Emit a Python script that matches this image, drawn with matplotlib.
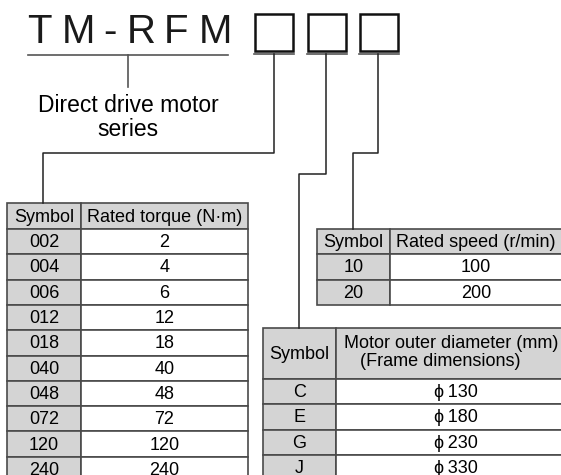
import matplotlib.pyplot as plt
from matplotlib.patches import Rectangle

plt.rcParams['font.family'] = ['Liberation Sans', 'DejaVu Sans']

# Table contents
torque_symbols = ['002', '004', '006', '012', '018', '040', '048', '072', '120', '240']
torque_values = ['2', '4', '6', '12', '18', '40', '48', '72', '120', '240']
speed_symbols = ['10', '20']
speed_values = ['100', '200']
frame_symbols = ['C', 'E', 'G', 'J']
frame_values = ['\u03d5\u2009130', '\u03d5\u2009180', '\u03d5\u2009230', '\u03d5\u2009330']

GRAY = '#d4d4d4'
EDGE = '#4a4a4a'
LINE = '#222222'

fig = plt.figure(figsize=(5.61, 4.75), dpi=100)
ax = fig.add_axes([0, 0, 1, 1])
ax.set_xlim(0, 561)
ax.set_ylim(475, 0)
ax.axis('off')


def table(x0, x1, x2, top, head_h, row_h, header, symbols, values, fs=13):
    # header row
    ax.add_patch(Rectangle((x0, top), x1 - x0, head_h, fc=GRAY, ec=EDGE, lw=1.2))
    ax.add_patch(Rectangle((x1, top), x2 - x1, head_h, fc=GRAY, ec=EDGE, lw=1.2))
    ax.text((x0 + x1) / 2, top + head_h / 2 + 1, header[0], ha='center', va='center', fontsize=fs)
    if len(header) == 2:
        ax.text((x1 + x2) / 2, top + head_h / 2 + 1, header[1], ha='center', va='center', fontsize=fs)
    else:
        ax.text(451, top + 15, header[1], ha='center', va='center', fontsize=fs)
        ax.text(440, top + 33, header[2], ha='center', va='center', fontsize=fs)
    y = top + head_h
    for s, v in zip(symbols, values):
        ax.add_patch(Rectangle((x0, y), x1 - x0, row_h, fc=GRAY, ec=EDGE, lw=1.2))
        ax.add_patch(Rectangle((x1, y), x2 - x1, row_h, fc='white', ec=EDGE, lw=1.2))
        ax.text((x0 + x1) / 2, y + row_h / 2 + 1, s, ha='center', va='center', fontsize=fs)
        ax.text((x1 + x2) / 2, y + row_h / 2 + 1, v, ha='center', va='center', fontsize=fs)
        y += row_h


# Model name
for ch, cx in zip('TM-RFM', [39, 78, 110, 141, 176, 215]):
    ax.text(cx, 32, ch, ha='center', va='center', fontsize=29, color='#1a1a1a')
ax.plot([28, 228], [55, 55], color='#555555', lw=1.2)
ax.plot([128, 128], [55, 87], color='#555555', lw=1.2)
ax.text(128, 106, 'Direct drive motor', ha='center', va='center', fontsize=16.5)
ax.text(128, 129, 'series', ha='center', va='center', fontsize=16.5)

# Blank code boxes
for bx in [255, 308, 360]:
    ax.add_patch(Rectangle((bx, 14), 38, 37, fc='white', ec='#111111', lw=1.8))
    ax.plot([bx - 1, bx + 39], [54, 54], color='#555555', lw=1.2)

# Leader lines
ax.plot([274, 274, 43, 43], [54, 153, 153, 203], color=LINE, lw=1.1)
ax.plot([326, 326, 299, 299], [54, 174, 174, 328], color=LINE, lw=1.1)
ax.plot([378, 378, 353, 353], [54, 153, 153, 229], color=LINE, lw=1.1)

table(7, 81, 248, 203, 26, 25.3, ['Symbol', 'Rated torque (N\u00b7m)'],
      torque_symbols, torque_values)
table(317, 390, 562, 229, 25, 25.5, ['Symbol', 'Rated speed (r/min)'],
      speed_symbols, speed_values)
table(263, 336, 575, 328, 51, 25.3,
      ['Symbol', 'Motor outer diameter (mm)', '(Frame dimensions)'],
      frame_symbols, frame_values)

fig.savefig('out.png', dpi=100)
